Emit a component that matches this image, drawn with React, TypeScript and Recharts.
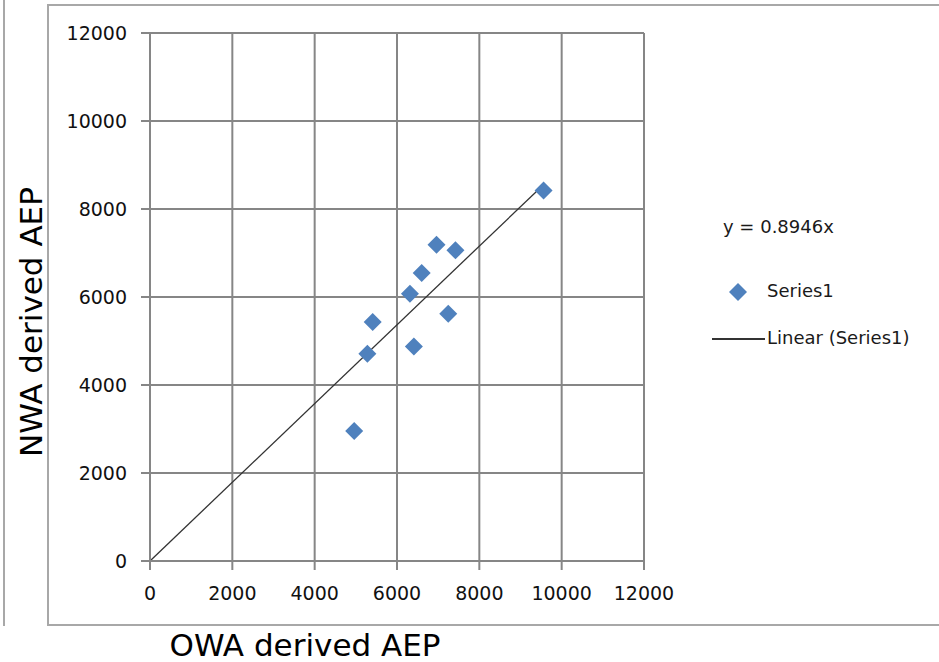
import {
  CartesianGrid,
  Legend,
  ReferenceLine,
  Scatter,
  ScatterChart,
  XAxis,
  YAxis,
} from 'recharts'

const owaAep = [9560, 6960, 7420, 6600, 6315, 7245, 5410, 5280, 6410, 4960]
const nwaAep = [8420, 7190, 7060, 6545, 6075, 5620, 5430, 4710, 4875, 2955]
const axisTicks = [0, 2000, 4000, 6000, 8000, 10000, 12000]
const trendSlope = 0.8946
const trendMaxX = 9560

const points = owaAep.map((x, i) => ({ x, y: nwaAep[i] }))

const blue = '#4F81BD'
const gridGray = '#868686'
const frameGray = '#a8a8a8'
const font = '"DejaVu Sans", Verdana, sans-serif'

function Diamond(props: any) {
  const { cx, cy } = props
  const r = 9
  return (
    <polygon
      points={`${cx},${cy - r} ${cx + r},${cy} ${cx},${cy + r} ${cx - r},${cy}`}
      fill={blue}
    />
  )
}

function LegendBox() {
  return (
    <div style={{ fontFamily: font, fontSize: 18, color: '#1a1a1a', position: 'relative', width: 230, height: 150 }}>
      <div style={{ position: 'absolute', left: 18, top: 6 }}>y = 0.8946x</div>
      <svg style={{ position: 'absolute', left: 24, top: 73 }} width={18} height={18}>
        <polygon points="9,0 18,9 9,18 0,9" fill={blue} />
      </svg>
      <div style={{ position: 'absolute', left: 62, top: 70 }}>Series1</div>
      <div style={{ position: 'absolute', left: 7, top: 128, width: 53, height: 2, background: '#333' }} />
      <div style={{ position: 'absolute', left: 62, top: 117 }}>Linear (Series1)</div>
    </div>
  )
}

export default function App() {
  const tickStyle = { fontSize: 19, fill: '#111', fontFamily: font }
  return (
    <div style={{ position: 'absolute', left: 0, top: 0, width: 939, height: 662, background: '#fff', overflow: 'hidden' }}>
      {/* neighbouring chart edge and this chart's frame */}
      <div style={{ position: 'absolute', left: 3, top: 0, width: 2, height: 626, background: frameGray }} />
      <div style={{ position: 'absolute', left: 47, top: 4, width: 2, height: 622, background: frameGray }} />
      <div style={{ position: 'absolute', left: 47, top: 4, width: 892, height: 2, background: frameGray }} />
      <div style={{ position: 'absolute', left: 47, top: 624, width: 892, height: 2, background: frameGray }} />

      <div style={{ position: 'absolute', left: 0, top: 0 }}>
        <ScatterChart
          width={939}
          height={662}
          margin={{ top: 33, right: 295, left: 90, bottom: 61 }}
        >
          <CartesianGrid stroke={gridGray} strokeWidth={2} />
          <XAxis
            type="number"
            dataKey="x"
            domain={[0, 12000]}
            ticks={axisTicks}
            height={40}
            tickSize={9}
            tickMargin={17}
            tick={tickStyle}
            axisLine={{ stroke: gridGray, strokeWidth: 2 }}
            tickLine={{ stroke: gridGray, strokeWidth: 2 }}
          />
          <YAxis
            type="number"
            dataKey="y"
            domain={[0, 12000]}
            ticks={axisTicks}
            width={60}
            tickSize={9}
            tickMargin={14}
            tick={tickStyle}
            axisLine={{ stroke: gridGray, strokeWidth: 2 }}
            tickLine={{ stroke: gridGray, strokeWidth: 2 }}
          />
          <ReferenceLine
            segment={[
              { x: 0, y: 0 },
              { x: trendMaxX, y: trendSlope * trendMaxX },
            ]}
            stroke="#333"
            strokeWidth={1.3}
            ifOverflow="visible"
          />
          <Scatter
            data={points}
            shape={Diamond}
            isAnimationActive={false}
          />
          <Legend
            layout="vertical"
            align="center"
            verticalAlign="middle"
            content={() => <LegendBox />}
            wrapperStyle={{ left: 705, top: 210, width: 230, height: 150 }}
          />
        </ScatterChart>
      </div>

      <div
        style={{
          position: 'absolute',
          left: 305,
          top: 645,
          transform: 'translate(-50%, -50%)',
          fontFamily: font,
          fontSize: 31,
          whiteSpace: 'nowrap',
          color: '#000',
        }}
      >
        OWA derived AEP
      </div>
      <div
        style={{
          position: 'absolute',
          left: 31,
          top: 322,
          transform: 'translate(-50%, -50%) rotate(-90deg)',
          fontFamily: font,
          fontSize: 31,
          whiteSpace: 'nowrap',
          color: '#000',
        }}
      >
        NWA derived AEP
      </div>
    </div>
  )
}
